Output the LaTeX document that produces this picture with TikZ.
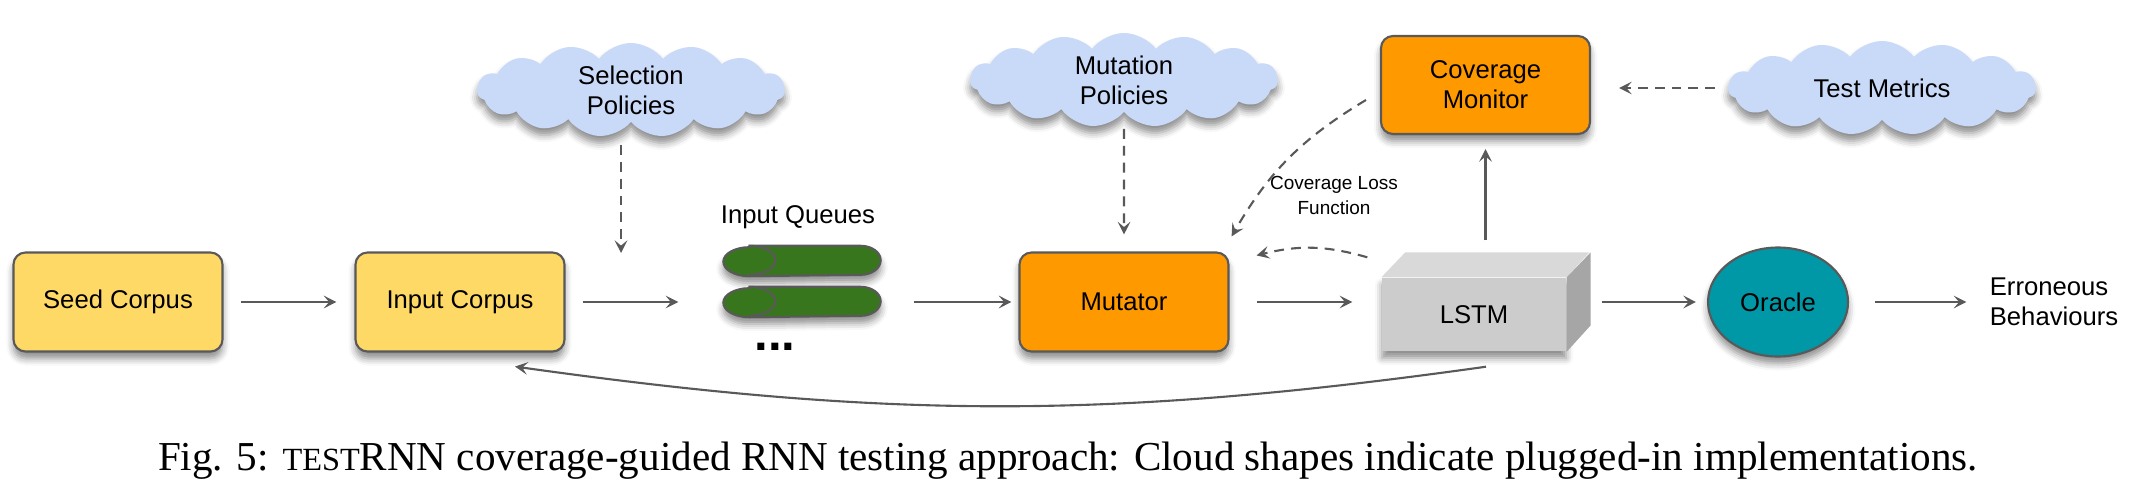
\documentclass[tikz,border=0pt]{standalone}
\usepackage{fontspec}
\setmainfont{Liberation Sans}
\newfontfamily\capfont{Liberation Serif}
\usetikzlibrary{positioning,shapes.geometric,shapes.symbols,arrows.meta,shadows.blur}

\definecolor{corpusyellow}{HTML}{FFD966}
\definecolor{engineorange}{HTML}{FF9900}
\definecolor{cloudblue}{HTML}{C9DAF8}
\definecolor{queuegreen}{HTML}{38761D}
\definecolor{oracleteal}{HTML}{0097A7}
\definecolor{edgegray}{HTML}{595959}
\definecolor{lstmgray}{HTML}{CCCCCC}
\definecolor{lstmtop}{HTML}{D9D9D9}
\definecolor{lstmside}{HTML}{A6A6A6}

\newcommand{\nodesize}{\fontsize{7.3pt}{8.6pt}\selectfont}
\newcommand{\notesize}{\fontsize{5.4pt}{7.1pt}\selectfont}

\begin{document}
\begin{tikzpicture}

		\tikzstyle{softshadow}=[blur shadow={shadow xshift=0pt,shadow yshift=-0.07cm,shadow blur radius=0.07cm,shadow opacity=45}]
		\tikzstyle{corpus}=[rectangle,rounded corners=0.12cm,
			fill=corpusyellow,draw=edgegray,line width=0.6pt,
			minimum width=2.09cm,minimum height=0.99cm,
			font=\nodesize,align=center,softshadow]
		\tikzstyle{engine}=[corpus,fill=engineorange]
		\tikzstyle{policy}=[cloud,cloud puffs=15,cloud puff arc=105,cloud ignores aspect,fill=cloudblue,
			minimum width=3.08cm,minimum height=0.94cm,inner sep=0pt,
			font=\nodesize,align=center,softshadow]
		\tikzstyle{queue}=[rectangle,minimum width=1.56cm,minimum height=0.29cm,inner sep=0pt]
		\tikzstyle{pill}=[fill=queuegreen,draw=edgegray,line width=0.6pt]
		\tikzstyle{lstmfront}=[rectangle,fill=lstmgray,minimum width=1.84cm,minimum height=0.73cm,font=\nodesize,softshadow]
		\tikzstyle{flow}=[draw=edgegray,line width=0.6pt,-{Stealth[length=3.6pt,width=3.6pt,inset=1.5pt]}]
		\tikzstyle{hint}=[flow,dash pattern=on 2.8pt off 2pt]

		\useasboundingbox (0,0) rectangle (21.37,-4.91);

		\node[corpus]	(seed)	at (1.18,-3.02)	{Seed Corpus};
		\node[corpus,right of=seed,node distance=3.42cm]	(input)	{Input Corpus};
		\node[queue,right of=input,node distance=3.42cm]	(q2)	{};
		\node[queue,above of=q2,node distance=0.41cm]	(q1)	{};
		\foreach \q in {q1,q2} {
			\path[pill,softshadow] ([xshift=0.26cm]\q.north west) -- ([xshift=-0.2cm]\q.north east)
				arc[start angle=90,end angle=-90,x radius=0.2cm,y radius=0.145cm]
				-- ([xshift=0.26cm]\q.south west)
				arc[start angle=270,end angle=90,x radius=0.26cm,y radius=0.145cm] -- cycle;
			\draw[edgegray,line width=0.6pt] ([xshift=0.26cm]\q.north west)
				arc[start angle=90,end angle=-90,x radius=0.26cm,y radius=0.145cm];
		}
		\node[font=\nodesize,inner sep=0pt,above=0.16cm of q1,xshift=-0.04cm]	(qlabel)	{Input Queues};
		\node[font=\bfseries\fontsize{14pt}{14pt}\selectfont,below of=q2,node distance=0.45cm,xshift=-0.27cm]	(dots)	{...};
		\node[engine,right of=q2,node distance=3.22cm]	(mutator)	{Mutator};
		\node[lstmfront,right of=mutator,node distance=3.50cm,yshift=-0.125cm]	(lstm)	{LSTM};
		\fill[lstmtop] (lstm.north west) -- ++(0.24,0.25) -- ++(1.84,0) -- (lstm.north east) -- cycle;
		\fill[lstmside] (lstm.north east) -- ++(0.24,0.25) -- ++(0,-0.73) -- (lstm.south east) -- cycle;
		\node[ellipse,fill=oracleteal,draw=edgegray,line width=0.6pt,minimum width=1.37cm,minimum height=1.09cm,font=\nodesize,softshadow]	(oracle)	at (17.78,-3.02)	{Oracle};
		\node[right of=oracle,node distance=2.76cm,align=left,font=\nodesize]	(errors)	{Erroneous\\Behaviours};

		\node[engine,minimum height=0.98cm]	(cover)	at (14.855,-0.85)	{Coverage\\Monitor};
		\node[policy]	(selpol)	at (6.31,-0.90)	{Selection\\Policies};
		\node[policy,above of=mutator,node distance=2.22cm]	(mutpol)	{Mutation\\Policies};
		\node[policy]	(metrics)	at (18.82,-0.88)	{Test Metrics};
		\node[font=\notesize,align=center]	(lossfn)	at (13.34,-1.95)	{Coverage Loss\\Function};
		\coordinate (selpt) at (6.21,-2.53);

		\draw[flow,shorten <=0.17cm,shorten >=0.18cm] (seed) -- (input);
		\draw[flow,shorten <=0.17cm,shorten >=0.45cm] (input) -- (q2);
		\draw[flow,shorten <=0.33cm,shorten >=0.07cm] (q2) -- (mutator);
		\draw[flow,shorten <=0.27cm,shorten >=0.29cm] (mutator.east) -- (mutator.east -| lstm.west);
		\draw[flow,shorten <=0.35cm,shorten >=0.11cm] (oracle.west -| lstm.east) -- (oracle.west);
		\draw[flow,shorten <=0.26cm,shorten >=0.11cm] (oracle.east) -- (errors.west);
		\draw[flow,shorten >=0.14cm] ([yshift=0.37cm]lstm.north -| cover.south) -- (cover.south);
		\draw[flow] ([xshift=0.12cm,yshift=-0.15cm]lstm.south) to[out=188,in=-8] ([xshift=0.55cm,yshift=-0.14cm]input.south);

		\draw[hint,shorten <=0.22cm] (selpol.south -| selpt) -- (selpt);
		\draw[hint,shorten <=0.16cm,shorten >=0.17cm] (mutpol) -- (mutator);
		\draw[hint,shorten <=0.12cm,shorten >=0.28cm] (metrics.west) -- (metrics.west -| cover.east);
		\draw[hint] ([xshift=-0.14cm,yshift=-0.15cm]cover.west) to[out=211,in=60] ([xshift=0.02cm,yshift=0.15cm]mutator.north east);
		\draw[hint] ([xshift=-0.14cm,yshift=0.20cm]lstm.north west) to[bend right=15] ([xshift=0.27cm,yshift=-0.04cm]mutator.north east);

		\node[font=\capfont\fontsize{11.7pt}{13pt}\selectfont,anchor=base]	(caption)	at (10.68,-4.70)	{Fig. 5: {\fontsize{9.2pt}{13pt}\selectfont TEST}RNN coverage-guided RNN testing approach: Cloud shapes indicate plugged-in implementations.};

	\end{tikzpicture}
\end{document}
